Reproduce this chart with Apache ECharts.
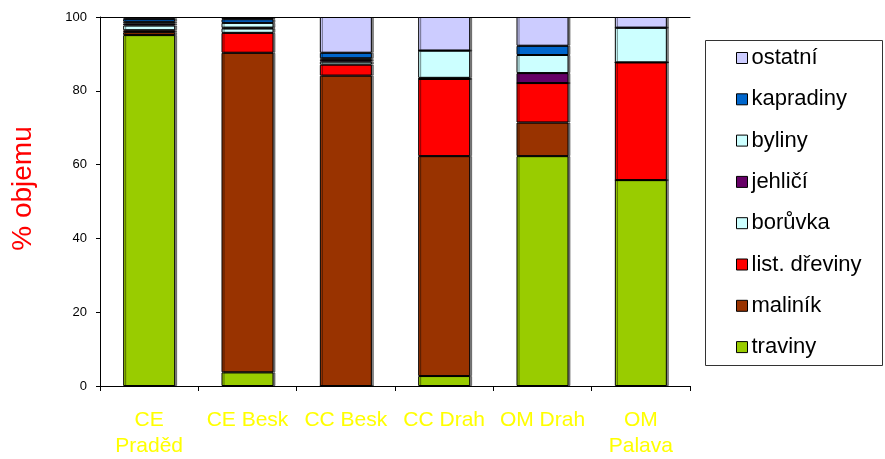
<!DOCTYPE html>
<html>
<head>
<meta charset="utf-8">
<script src="https://cdn.jsdelivr.net/npm/echarts@6/dist/echarts.min.js"></script>
<style>
  html, body { margin: 0; padding: 0; background: #fff; }
  #chart { width: 885px; height: 459px; }
</style>
</head>
<body>
<div id="chart"></div>
<script>
// Sites (x categories)
const sites = ['CE\nPraděd', 'CE Besk', 'CC Besk', 'CC Drah', 'OM Drah', 'OM\nPalava'];

// Share of volume (%) per vegetation group, one value per site
const traviny      = [95.1, 3.7, 0.0, 2.7, 62.3, 55.8];
const malinik      = [0.8, 86.6, 84.1, 59.6, 9.1, 0.0];
const listDreviny  = [0.5, 5.4, 3.0, 20.9, 10.7, 31.9];
const boruvka      = [1.3, 1.2, 0.8, 0.0, 0.0, 0.0];
const jehlici      = [0.5, 0.2, 0.5, 0.3, 2.7, 0.0];
const byliny       = [0.5, 1.3, 0.4, 7.4, 4.9, 9.4];
const kapradiny    = [0.8, 1.0, 1.5, 0.0, 2.5, 0.0];
const ostatni      = [0.5, 0.4, 9.7, 9.1, 7.8, 2.9];

const yTicks = [0, 20, 40, 60, 80, 100];

const groups = [
  { name: 'traviny',      data: traviny,     color: '#99CC00' },
  { name: 'maliník',      data: malinik,     color: '#993300' },
  { name: 'list. dřeviny', data: listDreviny, color: '#FF0000' },
  { name: 'borůvka',      data: boruvka,     color: '#CCFFFF' },
  { name: 'jehličí',      data: jehlici,     color: '#660066' },
  { name: 'byliny',       data: byliny,      color: '#CCFFFF' },
  { name: 'kapradiny',    data: kapradiny,   color: '#0066CC' },
  { name: 'ostatní',      data: ostatni,     color: '#CCCCFF' }
];

const FONT = '"Liberation Sans", Arial, sans-serif';

const chart = echarts.init(document.getElementById('chart'), null, { renderer: 'canvas' });

chart.setOption({
  animation: false,
  backgroundColor: '#fff',
  grid: { left: 100, right: 195, top: 17, bottom: 71 },
  graphic: [{
    type: 'rect',
    shape: { x: 705.5, y: 40.5, width: 177, height: 325 },
    style: { fill: 'none', stroke: '#333', lineWidth: 1 },
    z: 0
  }],
  legend: {
    orient: 'vertical',
    left: 736,
    top: 47,
    padding: 0,
    itemWidth: 11,
    itemHeight: 11,
    itemGap: 19.3,
    icon: 'rect',
    data: groups.map(g => g.name).reverse(),
    textStyle: { fontFamily: FONT, fontSize: 22, lineHeight: 22, color: '#000', padding: [0, 0, 0, -1] },
    itemStyle: { borderColor: '#000', borderWidth: 1 }
  },
  xAxis: [{
    type: 'category',
    data: sites,
    position: 'bottom',
    axisLine: { lineStyle: { color: '#000', width: 1 } },
    axisTick: { show: true, length: 5, lineStyle: { color: '#000' } },
    axisLabel: {
      interval: 0,
      margin: 21,
      color: '#FFFF00',
      fontFamily: FONT,
      fontSize: 21,
      lineHeight: 26
    }
  }, {
    type: 'category',
    data: sites,
    position: 'top',
    axisLine: { lineStyle: { color: '#000', width: 1 } },
    axisTick: { show: false },
    axisLabel: { show: false }
  }],
  yAxis: {
    type: 'value',
    min: yTicks[0],
    max: yTicks[yTicks.length - 1],
    interval: 20,
    splitLine: { show: false },
    axisLine: { show: true, lineStyle: { color: '#000', width: 1 } },
    axisTick: { show: true, length: 4, lineStyle: { color: '#000' } },
    axisLabel: { margin: 13, color: '#000', fontFamily: FONT, fontSize: 13 },
    name: '% objemu',
    nameLocation: 'middle',
    nameRotate: 90,
    nameGap: 63,
    nameTextStyle: { color: '#FF0000', fontFamily: FONT, fontSize: 28, padding: [0, 0, 0, 26] }
  },
  series: groups.map(g => ({
    name: g.name,
    type: 'bar',
    stack: 'total',
    barWidth: 52,
    data: g.data,
    itemStyle: {
      color: g.color,
      borderColor: '#000',
      borderWidth: 1,
      shadowColor: 'rgba(0,0,0,0.45)',
      shadowOffsetX: 2,
      shadowBlur: 0
    },
    emphasis: { disabled: true }
  }))
});
</script>
</body>
</html>
